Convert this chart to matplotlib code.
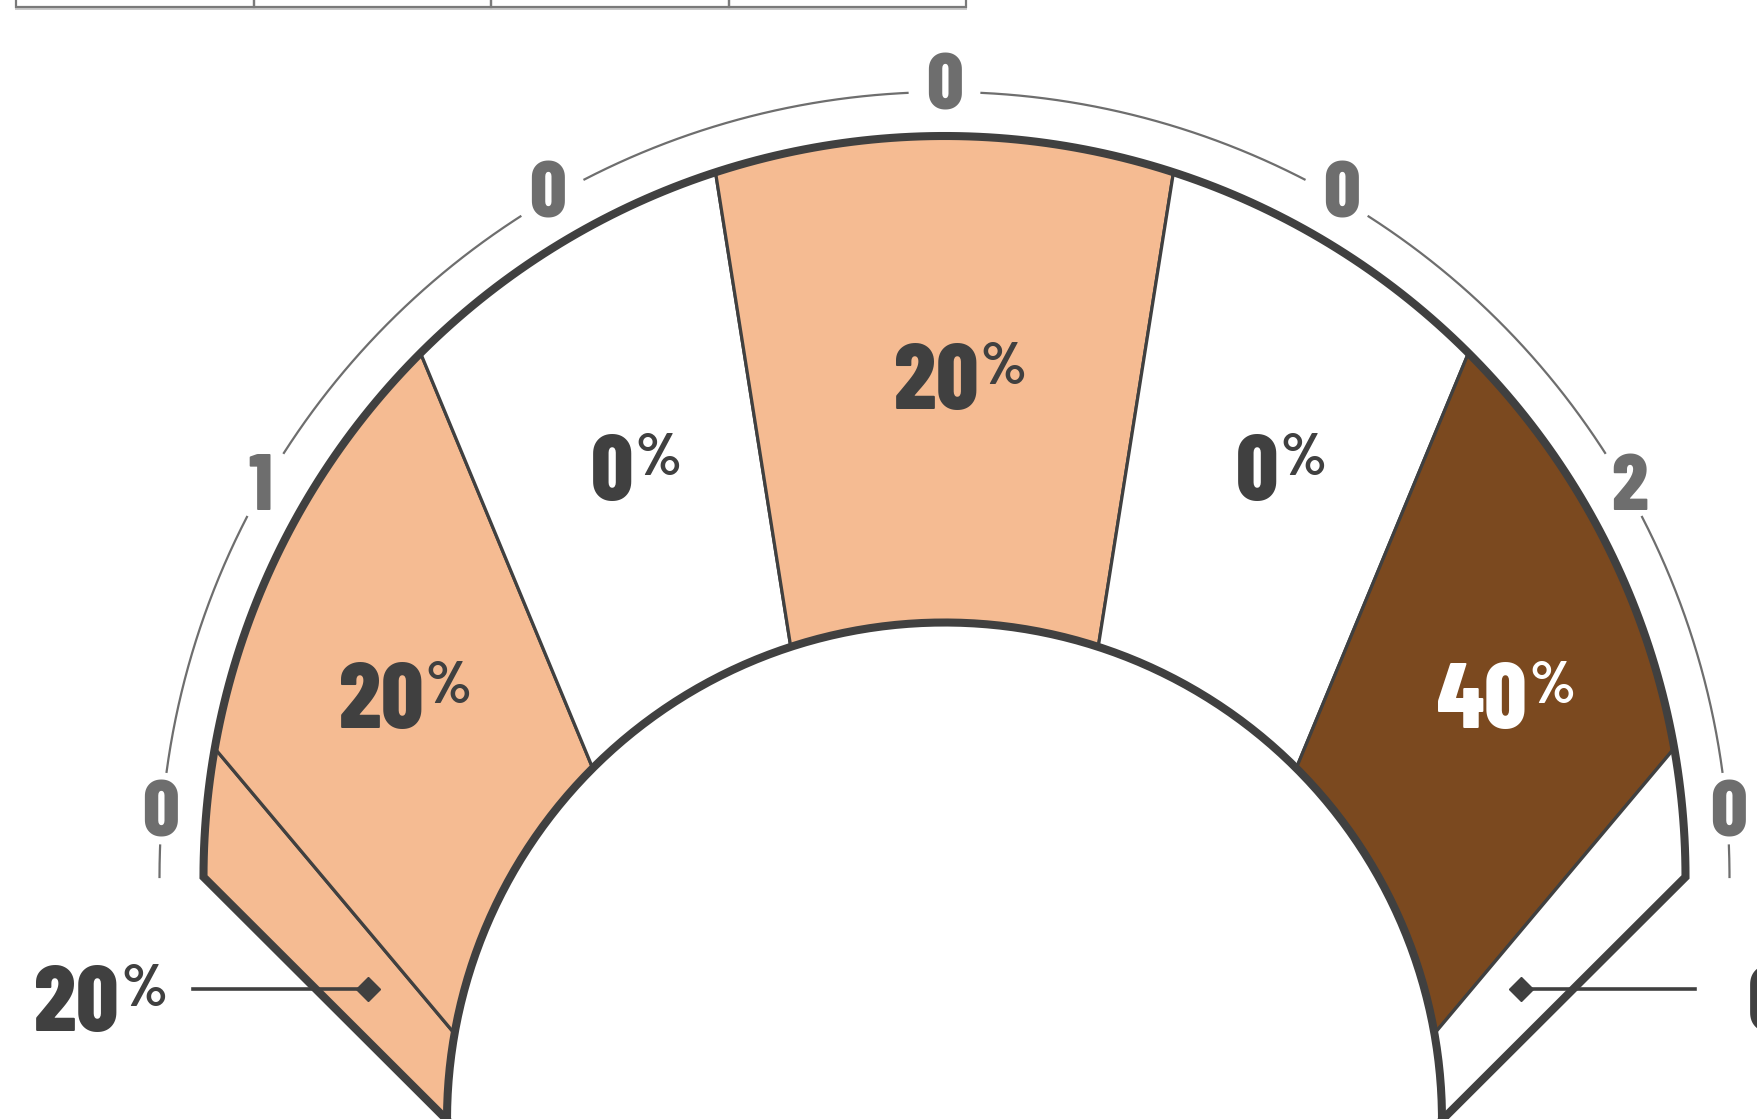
import numpy as np
import matplotlib
matplotlib.use('Agg')
import matplotlib.pyplot as plt
from matplotlib.patches import Polygon, Rectangle

plt.rcParams['font.family'] = ['Barlow Condensed', 'Roboto Condensed', 'IBM Plex Sans Condensed', 'DejaVu Sans']

# ---------------- data ----------------
segment_percent = [20, 20, 0, 20, 0, 40, 0]
segment_counts = ['0', '1', '0', '0', '0', '2', '0']
percent_palette = {0: '#FFFFFF', 20: '#F5BB92', 40: '#7B491F'}
legend_cells = 4

# ---------------- layout ----------------
W, H = 1757, 1119
boundaries = [180, 170, 135, 108, 72, 45, 10, 0]
count_angles = [175, 150, 120, 90, 60, 30, 5]
CO, R_OUT = (944.5, 877.0), 741.0
CI, R_IN = (944.5, 1120.0), 497.5
R_TICK = 785.0
GAP = 2.7
DARK = '#404040'
GREY = '#6E6E6E'
WEIGHT = 800

# inside labels: (digits right edge x, baseline y)
inside_pos = {1: (423.5, 728), 2: (633, 500), 3: (978, 409), 4: (1278.5, 500), 5: (1527, 728)}
# callouts: index -> (text x, text align, baseline, line x0, diamond x, y)
callouts = {0: (119, 'right', 1031, 193, 368, 989), 6: (1748, 'left', 1031, 1695, 1521, 989)}


def arc(c, r, a0, a1, n=240):
    t = np.radians(np.linspace(a0, a1, n))
    return np.column_stack([c[0] + r * np.cos(t), c[1] - r * np.sin(t)])


fig = plt.figure(figsize=(W / 100, H / 100), dpi=100)
ax = fig.add_axes([0, 0, 1, 1])
ax.set_xlim(0, W)
ax.set_ylim(H, 0)
ax.set_aspect('equal')
ax.axis('off')

# legend strip at the top (cut off)
x0, cw = 16, 237.5
for i in range(legend_cells):
    ax.add_patch(Rectangle((x0 + i * cw, -80), cw, 87, fill=False, ec='#7A7A7A', lw=1.6, zorder=2))
ax.plot([x0, x0 + legend_cells * cw], [9, 9], color='#C9C9C9', lw=1.4, zorder=1)

# segments
for i, v in enumerate(segment_percent):
    a0, a1 = boundaries[i], boundaries[i + 1]
    pts = np.vstack([arc(CO, R_OUT, a0, a1), arc(CI, R_IN, a1, a0)])
    ax.add_patch(Polygon(pts, closed=True, fc=percent_palette[v], ec=DARK, lw=2.3, joinstyle='miter', zorder=3))

# thick frame
outer = np.vstack([arc(CI, R_IN, 180, 180, 1), arc(CO, R_OUT, 180, 0), arc(CI, R_IN, 0, 0, 1)])
ax.plot(outer[:, 0], outer[:, 1], color=DARK, lw=5.8, solid_joinstyle='miter', zorder=4)
inner = arc(CI, R_IN, 180, 0)
ax.plot(inner[:, 0], inner[:, 1], color=DARK, lw=5.8, zorder=4)

# count labels around with broken thin arc
stops = [180] + [a for c in count_angles for a in (c + GAP, c - GAP)] + [0]
for k in range(0, len(stops), 2):
    seg = arc(CO, R_TICK, stops[k], stops[k + 1])
    ax.plot(seg[:, 0], seg[:, 1], color=GREY, lw=1.6, zorder=2)
for lab, a in zip(segment_counts, count_angles):
    r = 786 + 9 * np.sin(np.radians(a))
    x = CO[0] + r * np.cos(np.radians(a))
    y = CO[1] - r * np.sin(np.radians(a))
    ax.text(x, y + 28, lab, ha='center', va='baseline', fontsize=58, fontweight=WEIGHT, color=GREY, zorder=5)


def pct_label(x, y, value, color, align='right'):
    ax.text(x, y, f'{value}', ha=align, va='baseline', fontsize=67, fontweight=WEIGHT, color=color, zorder=6)
    px = x + 2 if align == 'right' else x + 45
    ax.text(px, y - 25, '%', ha='left', va='baseline', fontsize=43, fontweight=700, color=color, zorder=6)


for i, (x, y) in inside_pos.items():
    v = segment_percent[i]
    pct_label(x, y, v, '#FFFFFF' if v >= 40 else DARK)

for i, (tx, al, ty, lx, dx, ly) in callouts.items():
    ax.plot([lx, dx], [ly, ly], color=DARK, lw=2.6, zorder=7)
    ax.plot([dx], [ly], marker='D', ms=12.2, color=DARK, mec=DARK, zorder=8)
    pct_label(tx, ty, segment_percent[i], DARK, align=al)

fig.savefig('out.png', dpi=100, facecolor='white')
